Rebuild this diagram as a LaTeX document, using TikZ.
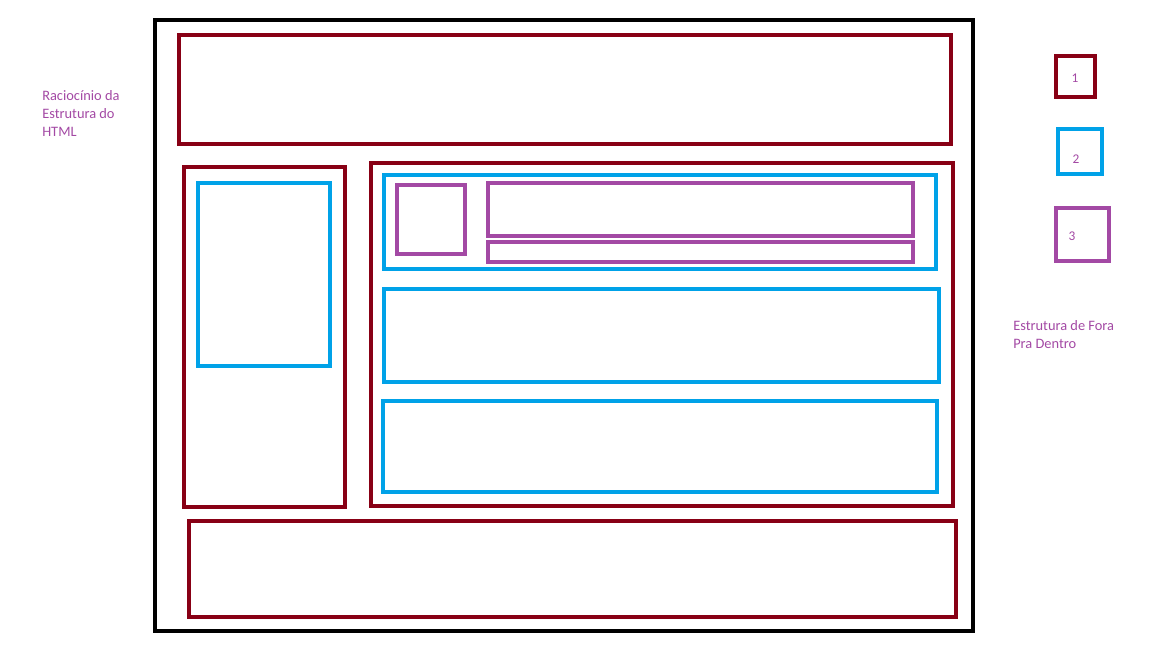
\documentclass[tikz,border=0pt]{standalone}
\usepackage{fontspec}
\setmainfont{Carlito}
\usepackage{xcolor}
\usetikzlibrary{positioning, calc}
\definecolor{vinho}{HTML}{880015}
\definecolor{azul}{HTML}{00A2E8}
\definecolor{roxo}{HTML}{A349A4}

\begin{document}
\begin{tikzpicture}[
    x=0.75pt, y=-0.75pt,
    lvlzero/.style={draw=black, line width=3.2pt},
    lvlone/.style={draw=vinho, line width=3pt},
    lvltwo/.style={draw=azul, line width=3pt},
    lvlthree/.style={draw=roxo, line width=3pt},
    legend/.style={rectangle, inner sep=0pt},
    legnum/.style={text=roxo, inner sep=0pt, font=\fontsize{10}{12}\selectfont},
    note/.style={text=roxo, align=left, inner sep=0pt, anchor=north west, font=\fontsize{10.8}{13.5}\selectfont}
]
\useasboundingbox (0,0) rectangle (1152,648);

% outer page
\draw[lvlzero] (155,20) rectangle (973,631);

% header / footer
\draw[lvlone] (179,35) rectangle (951,144);
\draw[lvlone] (189,521) rectangle (956,617);

% sidebar
\draw[lvlone] (184,167) rectangle (345,507);
\draw[lvltwo] (198,183) rectangle (330,366);

% main content
\draw[lvlone] (371,163) rectangle (953,506);
\draw[lvltwo] (384,175) rectangle (936,269);
\draw[lvlthree] (397,185) rectangle (465,254);
\draw[lvlthree] (488,183) rectangle (913,236);
\draw[lvlthree] (488,242) rectangle (913,262);
\draw[lvltwo] (384,289) rectangle (939,382);
\draw[lvltwo] (383,401) rectangle (937,492);

% legend
\node[legend, lvlone, minimum width=39*0.75pt, minimum height=41*0.75pt] (legone) at (1075.5,76.5) {};
\node[legend, lvltwo, minimum width=44*0.75pt, minimum height=45*0.75pt] (legtwo) at (1080,151.5) {};
\node[legend, lvlthree, minimum width=53*0.75pt, minimum height=53*0.75pt] (legthree) at (1082.5,234.5) {};
\node[legnum] (numone) at ($(legone.center)+(-0.5,1.5)$) {1};
\node[legnum] (numtwo) at ($(legtwo.center)+(-4,7.5)$) {2};
\node[legnum] (numthree) at ($(legthree.center)+(-10.5,1.5)$) {3};

% notes
\node[note] (raciocinio) at (42,90) {Raciocínio da\\Estrutura do\\HTML};
\node[note] (foradentro) at (1013,320) {Estrutura de Fora\\Pra Dentro};
\end{tikzpicture}
\end{document}
